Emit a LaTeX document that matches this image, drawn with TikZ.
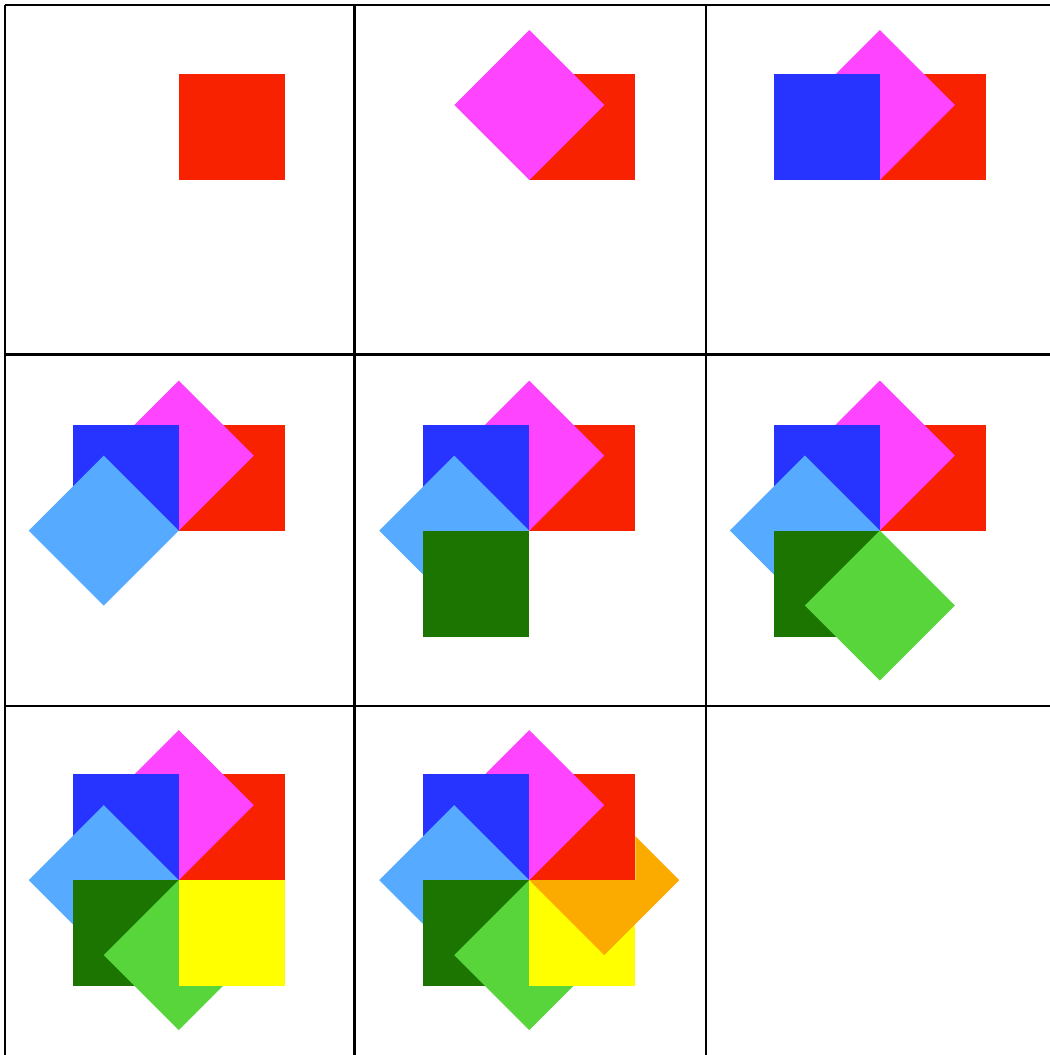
\documentclass[tikz,border=0pt]{standalone}
\usetikzlibrary{calc}
\definecolor{tilered}{HTML}{F82200}
\definecolor{tilepink}{HTML}{FF44FF}
\definecolor{tileblue}{HTML}{2733FF}
\definecolor{tilesky}{HTML}{56AAFF}
\definecolor{tilegreen}{HTML}{1C7500}
\definecolor{tilelime}{HTML}{57D53B}
\definecolor{tileyellow}{HTML}{FFFF00}
\definecolor{tileorange}{HTML}{FBAA00}
\tikzset{
    cellline/.style={draw=black, line width=1.2pt},
    redtile/.style={fill=tilered},
    pinktile/.style={fill=tilepink},
    bluetile/.style={fill=tileblue},
    skytile/.style={fill=tilesky},
    greentile/.style={fill=tilegreen},
    limetile/.style={fill=tilelime},
    yellowtile/.style={fill=tileyellow},
    orangetile/.style={fill=tileorange},
}
% #1 = centre, #2 = how many tiles are laid
\newcommand{\pinwheel}[2]{%
    \ifnum#2>0 \fill[redtile] (#1) rectangle ++(106,-106); \fi
    \ifnum#2>1 \fill[pinktile] (#1) -- ++(75,-75) -- ++(-75,-75) -- ++(-75,75) -- cycle; \fi
    \ifnum#2>2 \fill[bluetile] (#1) rectangle ++(-106,-106); \fi
    \ifnum#2>3 \fill[skytile] (#1) -- ++(-75,-75) -- ++(-75,75) -- ++(75,75) -- cycle; \fi
    \ifnum#2>4 \fill[greentile] (#1) rectangle ++(-106,106); \fi
    \ifnum#2>5 \fill[limetile] (#1) -- ++(-75,75) -- ++(75,75) -- ++(75,-75) -- cycle; \fi
    \ifnum#2>6 \fill[yellowtile] (#1) rectangle ++(106,106); \fi
    \ifnum#2>7 \fill[orangetile] (#1) -- ++(106,0) -- ++(0,-44) -- ++(44,44) -- ++(-75,75) -- cycle; \fi
}

\begin{document}
\begin{tikzpicture}[x=0.02cm, y=-0.02cm]

    \useasboundingbox (0,0) rectangle (1050,1055);
    \clip (0,0) rectangle (1050,1055);

    % ── Cell lines ─────────────────────────────────────────────────
    \foreach \p in {5, 354.5, 706, 1057} {
        \draw[cellline] (\p,5) -- (\p,1060);
        \draw[cellline] (5,\p) -- (1060,\p);
    }

    % ── Cell centres ───────────────────────────────────────────────
    \foreach \row/\cy in {0/180, 1/530.5, 2/880} {
        \foreach \col/\cx in {0/178.75, 1/529.25, 2/879.75} {
            \coordinate (c\row\col) at (\cx,\cy);
        }
    }

    % ── Tiles, one more in each cell ───────────────────────────────
    \pinwheel{c00}{1}
    \pinwheel{c01}{2}
    \pinwheel{c02}{3}
    \pinwheel{c10}{4}
    \pinwheel{c11}{5}
    \pinwheel{c12}{6}
    \pinwheel{c20}{7}
    \pinwheel{c21}{8}

\end{tikzpicture}
\end{document}
